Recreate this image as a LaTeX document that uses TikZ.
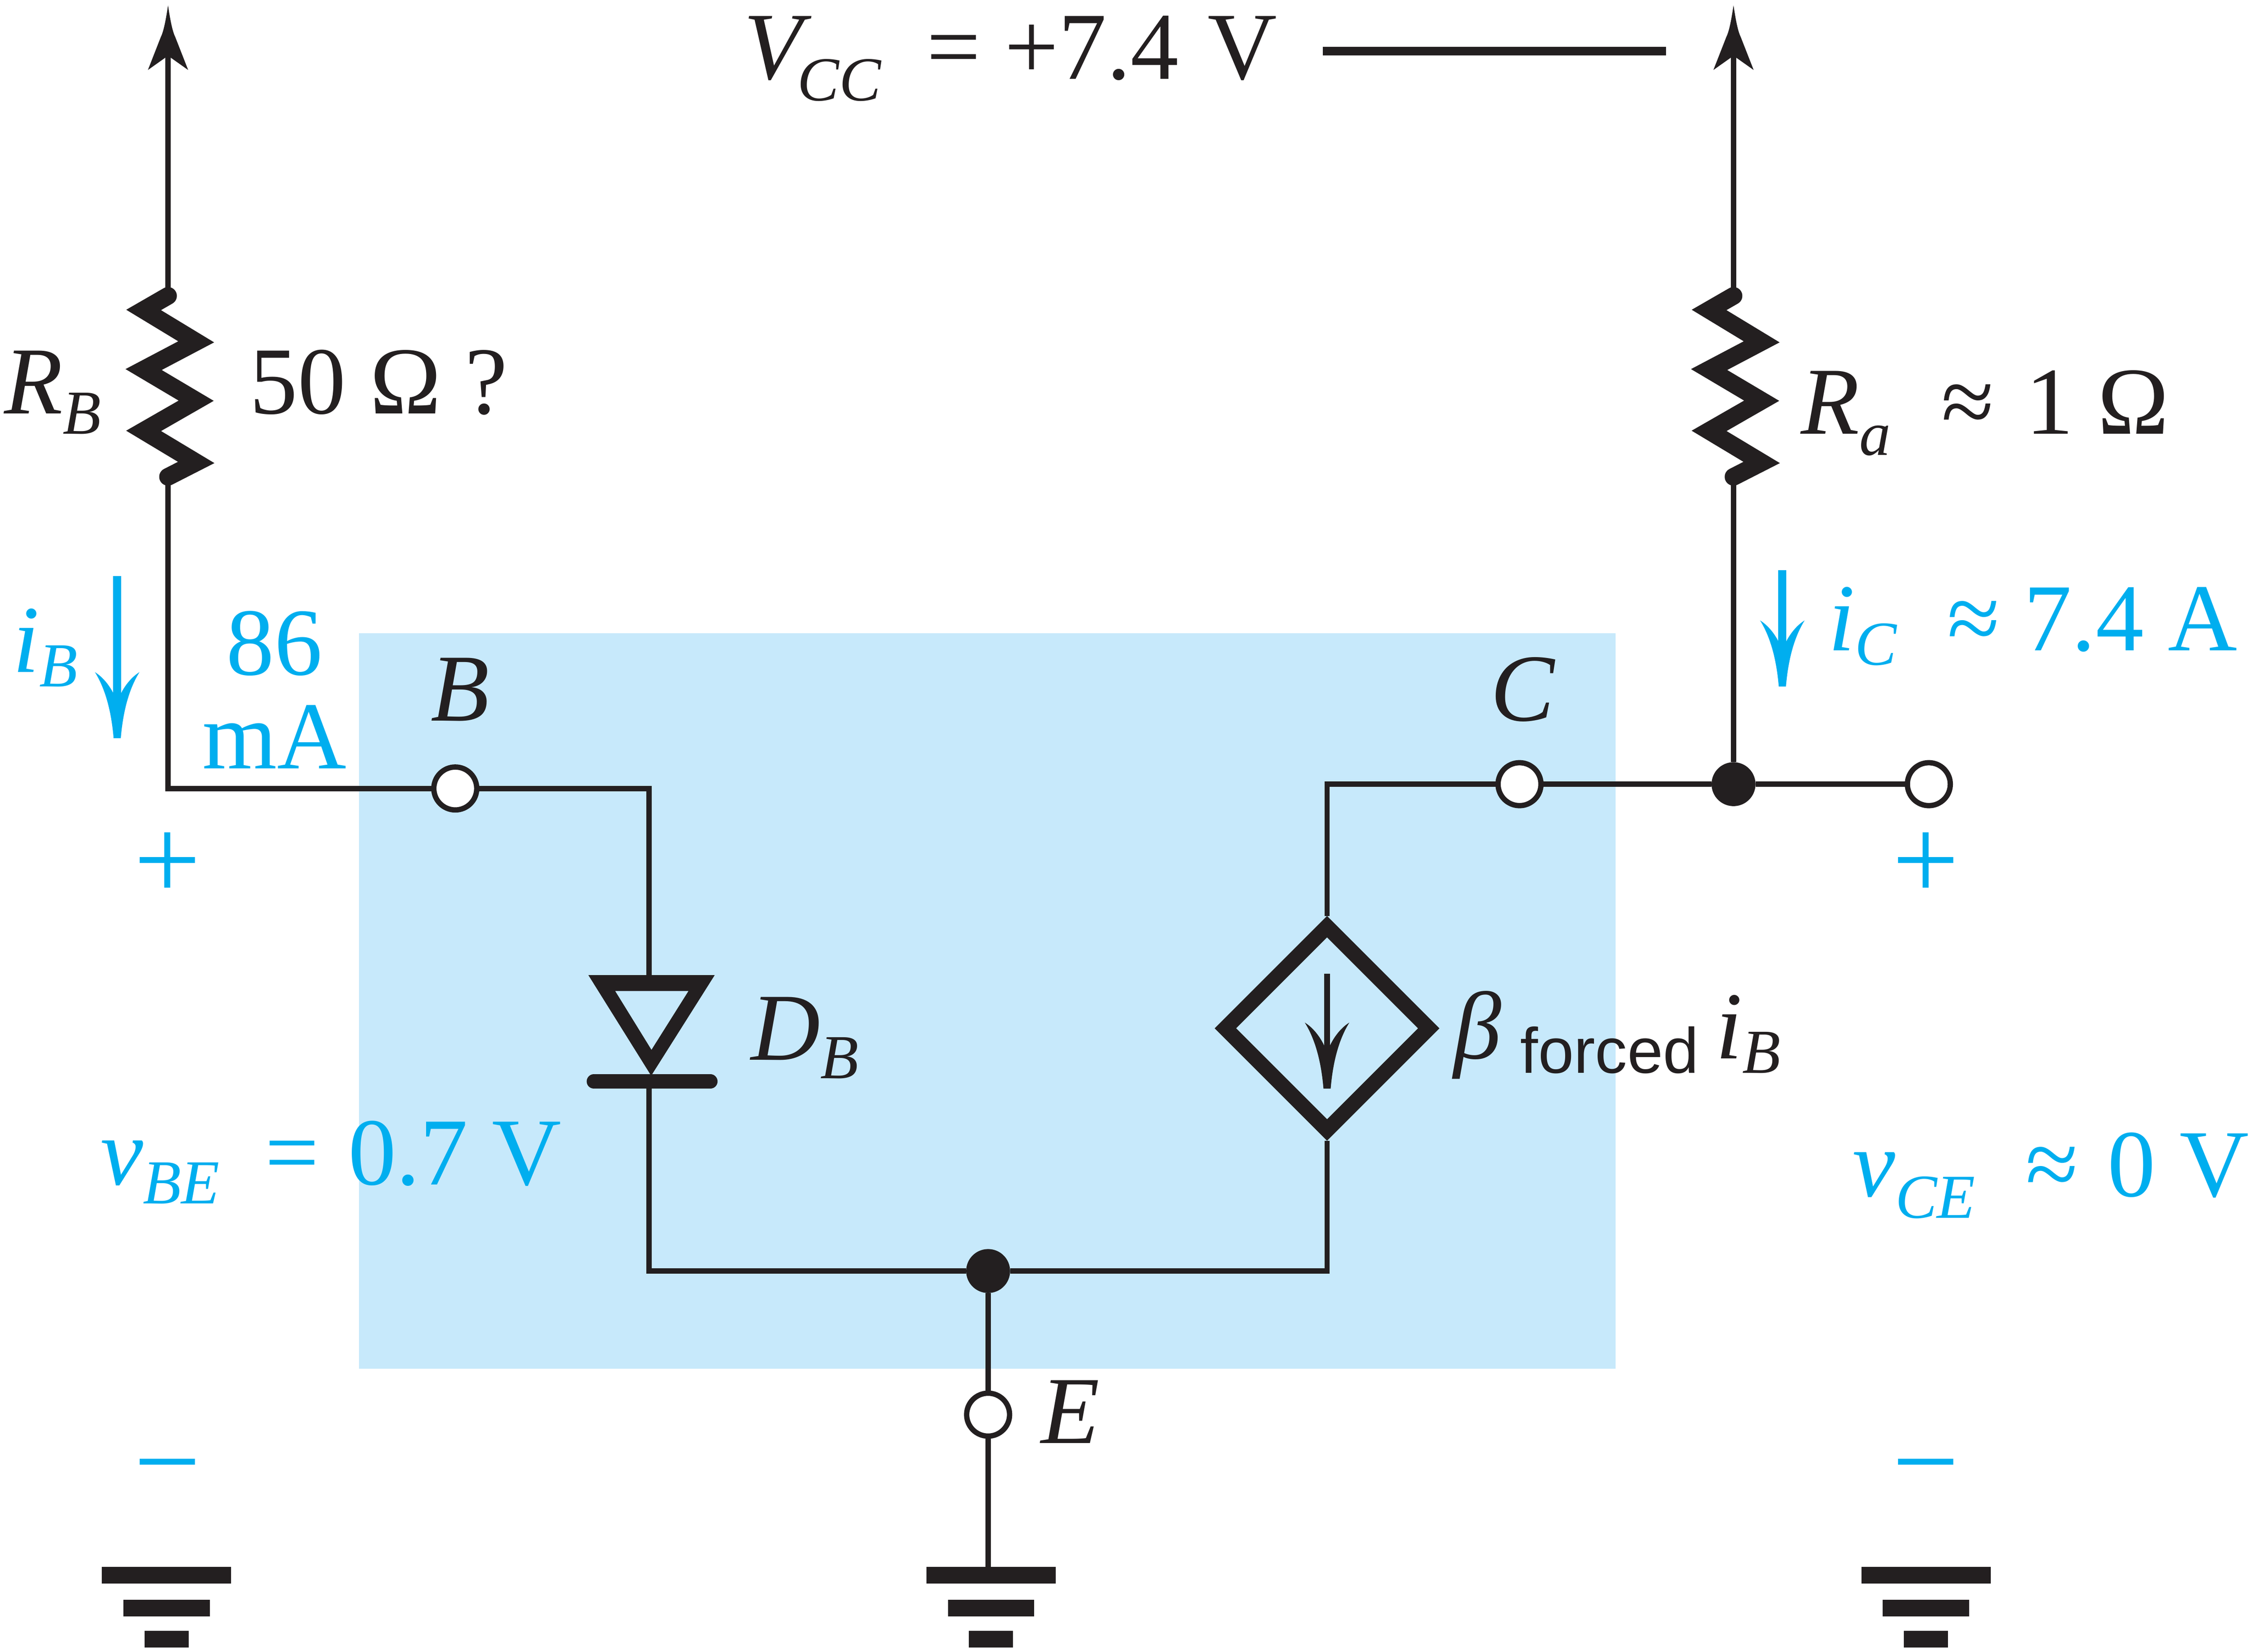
\documentclass[tikz,border=0pt]{standalone}
\usepackage{fontspec}
\setmainfont{Liberation Serif}
\newfontfamily\forcedfont{Liberation Sans}
\usepackage{xcolor}
\usepackage{tikz}
\usetikzlibrary{shapes.geometric}

\definecolor{inkc}{HTML}{231F20}
\definecolor{bluec}{HTML}{00AEEF}
\definecolor{boxc}{HTML}{C7E9FB}

\setlength{\unitlength}{0.01cm}
\newcommand{\sbs}[2][14]{\raisebox{-#1\unitlength}{\fontsize{12.4}{14}\selectfont\itshape #2}}
\newcommand{\ital}[1]{{\itshape #1}}
\newcommand{\curtip}[3]{\fill[#1,shift={(#2,#3)}] (-2.5,0) .. controls (-4,-18) and (-8,-34) .. (-15.5,-46)
  .. controls (-9,-42) and (-3,-34) .. (0,-25) .. controls (3,-34) and (9,-42) .. (15.5,-46)
  .. controls (8,-34) and (4,-18) .. (2.5,0) -- cycle;}
\newcommand{\uptip}[2]{\fill[inkc,shift={(#1,#2)}] (0,0) .. controls (-1.5,10) and (-3,18) .. (-5,22) -- (-14,45)
  -- (-2,36.5) -- (2,36.5) -- (14,45) -- (5,22) .. controls (3,18) and (1.5,10) .. (0,0) -- cycle;}

\tikzset{
  wire/.style={inkc,line width=1.05pt},
  lab/.style={anchor=base west,inner sep=0pt,outer sep=0pt,inkc,font=\fontsize{19}{19}\selectfont},
  vlab/.style={lab,bluec},
  sgn/.style={anchor=base,inner sep=0pt,bluec,font=\fontsize{23.5}{23.5}\selectfont},
  terminal/.style={circle,draw=inkc,fill=white,line width=1.05pt,minimum size=8.5pt,inner sep=0pt,outer sep=0pt},
  junction/.style={circle,fill=inkc,minimum size=8.7pt,inner sep=0pt,outer sep=0pt},
  depsource/.style={diamond,draw=inkc,line width=3pt,aspect=1,minimum width=41.5pt,minimum height=41.5pt,inner sep=0pt,outer sep=1.5pt},
}

\begin{document}
\begin{tikzpicture}[x=0.01cm,y=-0.01cm]
\useasboundingbox (0,0) rectangle (1568,1150);
\fill[boxc] (250,441) rectangle (1125,953);

% supply rails with resistors
\foreach \x/\n in {117/L,1207/R}{
  \coordinate (top\n) at (\x,36);
  \coordinate (rtop\n) at (\x,206);
  \coordinate (rbot\n) at (\x,332);
  \draw[wire] (top\n) -- (rtop\n);
  \draw[inkc,line width=3.5pt,line cap=round] (rtop\n) -- ++(-17,9.8) -- ++(36.6,22.2) -- ++(-36.6,19.3)
     -- ++(36.6,21.7) -- ++(-36.6,21) -- ++(36.6,22) -- (rbot\n);
  \uptip{\x}{3.7}
}

% nodes of the circuit
\node[terminal] (B) at (317,549) {};
\node[terminal] (C) at (1058,546) {};
\node[terminal] (E) at (688,985) {};
\node[terminal] (Cout) at (1343,546) {};
\node[junction] (Cj) at (1207,546) {};
\node[junction] (Ej) at (688,885) {};
\node[depsource] (dep) at (924,716) {};
\coordinate (an) at (452,682);
\coordinate (ca) at (452,754);
\coordinate (gE) at (688,1092);

\draw[wire] (rbotL) |- (B);
\draw[wire] (B) -| (an);
\draw[wire] (ca) |- (Ej);
\draw[wire] (Ej) -| (dep.south);
\draw[wire] (dep.north) |- (C);
\draw[wire] (C) -- (Cj);
\draw[wire] (Cj) -- (Cout);
\draw[wire] (rbotR) -- (Cj);
\draw[wire] (Ej) -- (E);
\draw[wire] (E) -- (gE);

% diode
\fill[inkc,even odd rule] (409.7,679) -- (497.6,679) -- (453.4,749) -- cycle
   (428.3,690) -- (479.4,690) -- (453.6,731) -- cycle;
\draw[inkc,line width=2.85pt,line cap=round] (413.5,753) -- (494.6,753);

% arrow in the source
\draw[inkc,line width=1.1pt] (924,678) -- (924,747);
\curtip{inkc}{924}{758}

% grounds
\foreach \x in {116,690,1341}{
  \fill[inkc] (\x-45,1091) rectangle (\x+45,1102.5);
  \fill[inkc] (\x-30,1114) rectangle (\x+30,1125.5);
  \fill[inkc] (\x-15.3,1135.5) rectangle (\x+15.3,1147);
}

% current arrows
\foreach \x/\ya/\yb in {81.6/401/514,1241/397/478}{
  \draw[bluec,line width=1.6pt] (\x,\ya) -- (\x,\yb-10);
}
\curtip{bluec}{81.6}{514}
\curtip{bluec}{1241}{478}

% supply bar
\coordinate (barL) at (921,35.5);
\coordinate (barR) at (1160,35.5);
\draw[inkc,line width=1.7pt] (barL) -- (barR);

% labels
\node[lab] (vcc) at (518,55) {\ital{V}\hspace{-1pt}\sbs[15]{CC}\hspace{9pt}= +7.4\hspace{1pt} V};
\node[lab] (rb) at (3,288) {\ital{R}\sbs{B}};
\node[lab] (rbval) at (174,288) {50 Ω ?};
\node[lab] (ra) at (1254,302) {\ital{R}\sbs[15]{a}\hspace{10pt}≈\hspace{1.5pt} 1 Ω};
\node[vlab] (ib) at (9,468) {\ital{i}\sbs[10]{B}};
\node[vlab,anchor=base,align=center,font=\fontsize{19}{18.5}\selectfont] (ibval) at (191,535) {86\\mA};
\node[vlab] (ic) at (1273,453) {\ital{i}\sbs[10]{C}\hspace{10pt}≈ 7.4 A};
\node[lab] (blab) at (300,502) {\ital{B}};
\node[lab] (clab) at (1038,502) {\ital{C}};
\node[lab] (elab) at (725,1005) {\ital{E}};
\node[lab] (db) at (523,738) {\ital{D}\sbs[13]{B}};
\node[lab] (beta) at (1012,737) {\ital{β}\hspace{3.8pt}\raisebox{-10\unitlength}{\fontsize{12.7}{14}\selectfont\forcedfont forced}\hspace{3.4pt}\ital{i}\sbs[10]{B}};
\node[vlab] (vbe) at (70,825) {\ital{v}\sbs[13]{BE}\hspace{9pt}=\hspace{1pt} 0.7 V};
\node[vlab] (vce) at (1290,833) {\ital{v}\sbs[15]{CE}\hspace{10pt}≈\hspace{1pt} 0 V};
\node[sgn] (pl) at (116.5,626.5) {+};
\node[sgn] (pr) at (1341,626.5) {+};
\node[sgn] (ml) at (116.5,1045.5) {−};
\node[sgn] (mr) at (1341,1045.5) {−};
\end{tikzpicture}
\end{document}
